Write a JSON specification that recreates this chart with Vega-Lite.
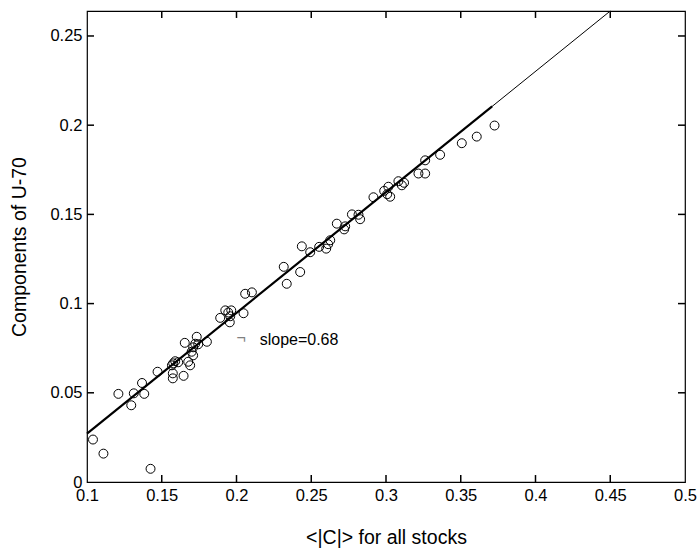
{
  "$schema": "https://vega.github.io/schema/vega-lite/v6.json",
  "autosize": "none",
  "width": 598,
  "height": 471,
  "padding": {"left": 87, "top": 11, "right": 12, "bottom": 68},
  "background": "white",
  "config": {
    "view": {"stroke": "black", "strokeWidth": 1.2},
    "font": "Liberation Sans",
    "axis": {
      "grid": false,
      "domain": false,
      "ticks": false,
      "labelColor": "black",
      "labelFontSize": 16.5,
      "labelFont": "Liberation Sans",
      "titleFont": "Liberation Sans",
      "titleFontSize": 19.5,
      "titleFontWeight": "normal",
      "titleColor": "black"
    }
  },
  "datasets": {
    "pts": [
      {"x": 0.104, "y": 0.0238}, {"x": 0.111, "y": 0.0159}, {"x": 0.1425, "y": 0.0074},
      {"x": 0.121, "y": 0.0494}, {"x": 0.1296, "y": 0.043}, {"x": 0.1313, "y": 0.0497},
      {"x": 0.1368, "y": 0.0555}, {"x": 0.1383, "y": 0.0494}, {"x": 0.1472, "y": 0.0618},
      {"x": 0.1574, "y": 0.0581}, {"x": 0.1574, "y": 0.0609}, {"x": 0.1568, "y": 0.0654},
      {"x": 0.159, "y": 0.0677}, {"x": 0.161, "y": 0.0671}, {"x": 0.1577, "y": 0.0665},
      {"x": 0.1646, "y": 0.0595}, {"x": 0.1654, "y": 0.078}, {"x": 0.1677, "y": 0.0674},
      {"x": 0.169, "y": 0.0654}, {"x": 0.170, "y": 0.073}, {"x": 0.171, "y": 0.071},
      {"x": 0.171, "y": 0.0755}, {"x": 0.1724, "y": 0.0775}, {"x": 0.1734, "y": 0.0814},
      {"x": 0.1744, "y": 0.0772}, {"x": 0.1802, "y": 0.0786}, {"x": 0.1891, "y": 0.092},
      {"x": 0.1925, "y": 0.0962}, {"x": 0.1945, "y": 0.095}, {"x": 0.1958, "y": 0.0929},
      {"x": 0.1955, "y": 0.0895}, {"x": 0.1965, "y": 0.0962}, {"x": 0.2047, "y": 0.0946},
      {"x": 0.2058, "y": 0.1055}, {"x": 0.2103, "y": 0.1063}, {"x": 0.2316, "y": 0.1206},
      {"x": 0.2336, "y": 0.1111}, {"x": 0.2426, "y": 0.1177}, {"x": 0.2437, "y": 0.1321},
      {"x": 0.2493, "y": 0.1288}, {"x": 0.2553, "y": 0.1318}, {"x": 0.26, "y": 0.1308},
      {"x": 0.2627, "y": 0.1355}, {"x": 0.2613, "y": 0.1333}, {"x": 0.2671, "y": 0.1448},
      {"x": 0.2727, "y": 0.1433}, {"x": 0.272, "y": 0.1416}, {"x": 0.2772, "y": 0.150},
      {"x": 0.2816, "y": 0.1498}, {"x": 0.2827, "y": 0.1473}, {"x": 0.2916, "y": 0.1596},
      {"x": 0.2988, "y": 0.1632}, {"x": 0.3016, "y": 0.1655}, {"x": 0.3028, "y": 0.1599},
      {"x": 0.3008, "y": 0.1613}, {"x": 0.3083, "y": 0.1686}, {"x": 0.3106, "y": 0.1663},
      {"x": 0.3121, "y": 0.1677}, {"x": 0.3217, "y": 0.1729}, {"x": 0.3262, "y": 0.1729},
      {"x": 0.3262, "y": 0.1803}, {"x": 0.3362, "y": 0.1834}, {"x": 0.3507, "y": 0.1899},
      {"x": 0.3607, "y": 0.1936}, {"x": 0.3726, "y": 0.1998}
    ],
    "thick": [{"x": 0.1, "y": 0.0271}, {"x": 0.371, "y": 0.2106}],
    "thin": [{"x": 0.1, "y": 0.0271}, {"x": 0.45, "y": 0.264}],
    "labels": [
      {"x": 0.2, "y": 0.0805, "t": "¬", "c": "grey"},
      {"x": 0.2155, "y": 0.0794, "t": "slope=0.68", "c": "black"}
    ],
    "xticks": [{"v": 0.15}, {"v": 0.2}, {"v": 0.25}, {"v": 0.3}, {"v": 0.35}, {"v": 0.4}, {"v": 0.45}],
    "yticks": [{"v": 0.05}, {"v": 0.1}, {"v": 0.15}, {"v": 0.2}, {"v": 0.25}]
  },
  "layer": [
    {
      "data": {"name": "pts"},
      "mark": {"type": "point", "shape": "circle", "filled": false, "stroke": "black", "strokeWidth": 1, "size": 80, "opacity": 1},
      "encoding": {
        "x": {"field": "x", "type": "quantitative", "scale": {"domain": [0.1, 0.5], "nice": false, "zero": false},
              "axis": {"orient": "bottom", "title": "<|C|> for all stocks", "values": [0.1,0.15,0.2,0.25,0.3,0.35,0.4,0.45,0.5], "format": ".2~f", "labelPadding": 5, "titlePadding": 25, "labelFlush": false}},
        "y": {"field": "y", "type": "quantitative", "scale": {"domain": [0, 0.264], "nice": false, "zero": false},
              "axis": {"orient": "left", "title": "Components of U-70", "values": [0,0.05,0.1,0.15,0.2,0.25], "format": ".2~f", "labelPadding": 5, "titlePadding": 20, "labelFlush": false}}
      }
    },
    {
      "data": {"name": "thin"},
      "mark": {"type": "line", "color": "black", "strokeWidth": 1},
      "encoding": {
        "x": {"field": "x", "type": "quantitative"},
        "y": {"field": "y", "type": "quantitative"}
      }
    },
    {
      "data": {"name": "thick"},
      "mark": {"type": "line", "color": "black", "strokeWidth": 2.2},
      "encoding": {
        "x": {"field": "x", "type": "quantitative"},
        "y": {"field": "y", "type": "quantitative"}
      }
    },
    {
      "data": {"name": "xticks"},
      "mark": {"type": "rule", "color": "black", "strokeWidth": 1.5},
      "encoding": {
        "x": {"field": "v", "type": "quantitative"},
        "y": {"datum": 0},
        "y2": {"datum": 0.0039}
      }
    },
    {
      "data": {"name": "xticks"},
      "mark": {"type": "rule", "color": "black", "strokeWidth": 1.5},
      "encoding": {
        "x": {"field": "v", "type": "quantitative"},
        "y": {"datum": 0.264},
        "y2": {"datum": 0.2601}
      }
    },
    {
      "data": {"name": "yticks"},
      "mark": {"type": "rule", "color": "black", "strokeWidth": 1.5},
      "encoding": {
        "y": {"field": "v", "type": "quantitative"},
        "x": {"datum": 0.1},
        "x2": {"datum": 0.1047}
      }
    },
    {
      "data": {"name": "yticks"},
      "mark": {"type": "rule", "color": "black", "strokeWidth": 1.5},
      "encoding": {
        "y": {"field": "v", "type": "quantitative"},
        "x": {"datum": 0.5},
        "x2": {"datum": 0.4953}
      }
    },
    {
      "data": {"name": "labels"},
      "mark": {"type": "text", "align": "left", "baseline": "middle", "fontSize": 16, "font": "Liberation Sans"},
      "encoding": {
        "x": {"field": "x", "type": "quantitative"},
        "y": {"field": "y", "type": "quantitative"},
        "text": {"field": "t"},
        "color": {"field": "c", "type": "nominal", "scale": null}
      }
    }
  ]
}
